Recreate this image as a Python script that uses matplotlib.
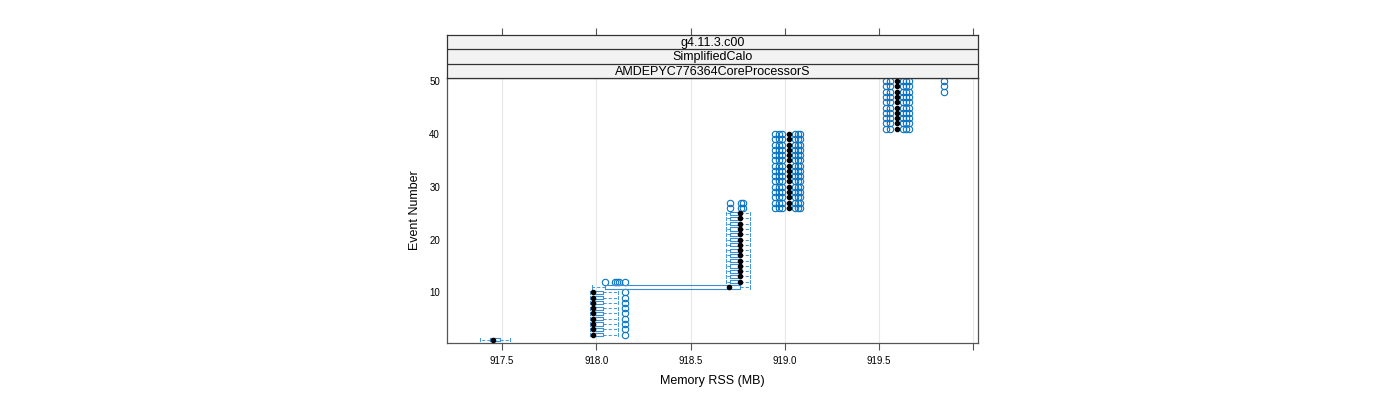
import matplotlib
matplotlib.use("Agg")
import matplotlib.pyplot as plt

plt.rcParams['font.family'] = ['Liberation Sans', 'DejaVu Sans']

# strip labels (outer to inner)
strips = ["g4.11.3.c00", "SimplifiedCalo", "AMDEPYC776364CoreProcessorS"]

events = list(range(1, 51))

# box statistics per event (MB)
whislo = ([917.383] + [917.967] * 9 + [917.977] + [918.688] * 14
          + [919.022] * 15 + [919.595] * 10)
q1 = ([917.436] + [917.983] * 9 + [918.046] + [918.710] * 14
      + [919.022] * 15 + [919.595] * 10)
med = ([917.452] + [917.983] * 9 + [918.704] + [918.763] * 14
       + [919.022] * 15 + [919.595] * 10)
q3 = ([917.489] + [918.036] * 9 + [918.763] + [918.763] * 14
      + [919.022] * 15 + [919.595] * 10)
whishi = ([917.542] + [918.115] * 9 + [918.816] + [918.816] * 14
          + [919.022] * 15 + [919.595] * 10)

out_2_10 = [918.153]
out_12 = [918.046, 918.100, 918.110, 918.120, 918.153]
out_26_27 = [918.710, 918.768, 918.778]
out_26_40 = [918.948, 918.969, 918.985, 919.054, 919.070, 919.081]
out_41_50 = [919.537, 919.558, 919.627, 919.643, 919.659]
out_48_50 = [919.845]

fliers = ([[]] + [out_2_10] * 9 + [[]] + [out_12] + [[]] * 13
          + [out_26_27 + out_26_40] * 2 + [out_26_40] * 13
          + [out_41_50] * 7 + [out_41_50 + out_48_50] * 3)

xticks = [917.5, 918.0, 918.5, 919.0, 919.5, 920.0]
xticklabels = ["917.5", "918.0", "918.5", "919.0", "919.5", ""]
yticks = [10, 20, 30, 40, 50]
xlim = (917.208, 920.025)

blue = "#0a74c4"
wblue = "#4a9ad8"

stats = []
for i in range(len(events)):
    stats.append(dict(med=med[i], q1=q1[i], q3=q3[i], whislo=whislo[i],
                      whishi=whishi[i], fliers=fliers[i], mean=med[i]))

fig = plt.figure(figsize=(14, 4), dpi=100)
ax = fig.add_axes([447 / 1400, 57 / 400, 531 / 1400, 265 / 400])

for x in xticks:
    ax.axvline(x, color="#e8e8e8", lw=0.8, zorder=0)

res = ax.bxp(stats, positions=events, widths=0.6, capwidths=0.6,
             orientation='horizontal', showmeans=True, manage_ticks=False,
             boxprops=dict(color=blue, lw=0.8),
             whiskerprops=dict(color=wblue, lw=0.75, linestyle=(0, (3, 2))),
             capprops=dict(color=wblue, lw=0.75),
             medianprops=dict(lw=0),
             meanprops=dict(marker='o', markerfacecolor='black',
                            markeredgecolor='black', markersize=3.0),
             flierprops=dict(marker='o', markerfacecolor='none',
                             markeredgecolor=blue, markersize=4.6, mew=0.8))
for b in res['boxes']:
    b.set_color("#3a8fd4")
    b.set_zorder(2.5)
for m in res['means']:
    m.set_zorder(3)

ax.set_xlim(*xlim)
ax.set_ylim(0.4, 50.6)
ax.set_xticks(xticks)
ax.set_xticklabels(xticklabels)
ax.set_yticks(yticks)
ax.tick_params(axis='x', direction='out', length=5, width=0.8,
               colors="#555555", labelcolor="black", labelsize=7, pad=4)
ax.tick_params(axis='y', length=0, labelsize=7, pad=5)
for s in ax.spines.values():
    s.set_color("#555555")
    s.set_linewidth(0.9)
ax.set_xlabel("Memory RSS (MB)", fontsize=9, labelpad=7)
ax.set_ylabel("Event Number", fontsize=9, labelpad=6)

# strips on top
sax = fig.add_axes([447 / 1400, 322 / 400, 531 / 1400, 43 / 400], sharex=ax)
sax.set_facecolor("#f2f2f2")
sax.set_ylim(0, 3)
for yy in [1, 2]:
    sax.axhline(yy, color="#333333", lw=0.9)
xmid = (xlim[0] + xlim[1]) / 2
for k, lab in enumerate(strips):
    sax.text(xmid, 2.45 - k, lab, ha='center', va='center', fontsize=9)
sax.set_yticks([])
sax.tick_params(axis='x', top=True, bottom=False, labeltop=False,
                labelbottom=False, direction='out', length=5, width=0.8,
                colors="#555555")
for s in sax.spines.values():
    s.set_color("#333333")
    s.set_linewidth(0.9)

fig.savefig("out.png", dpi=100)
